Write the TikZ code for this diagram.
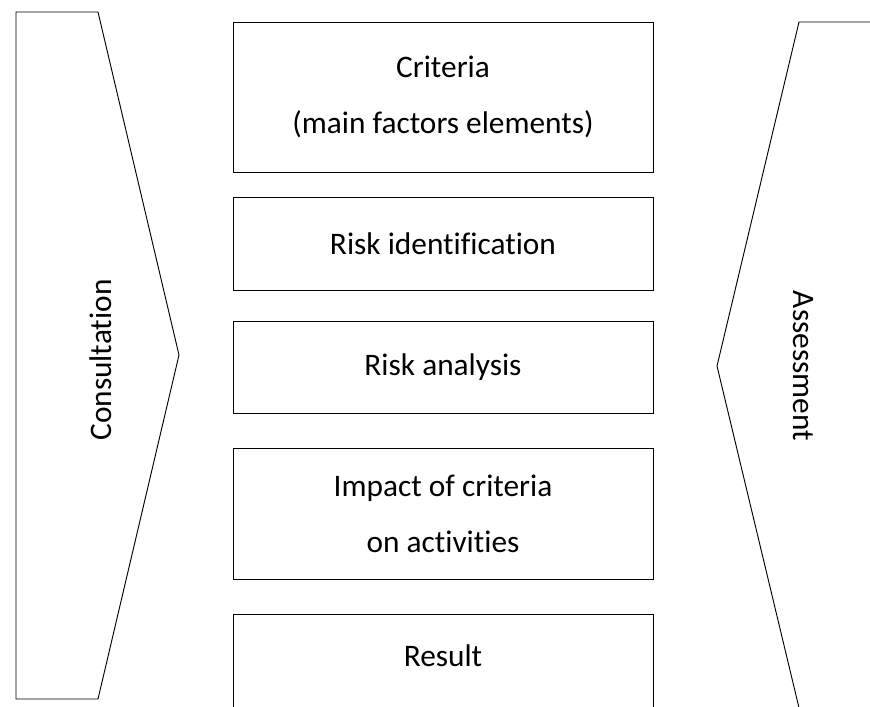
\documentclass[tikz,border=0pt]{standalone}
\usepackage{fontspec}
\setmainfont[Ligatures=NoCommon]{Carlito}
\usetikzlibrary{positioning}
\tikzset{stage/.style={draw,rectangle,minimum width=315pt,inner sep=0pt},
	sidetext/.style={inner sep=0pt},
	every picture/.style={line width=0.7pt}}

\begin{document}
\begin{tikzpicture}[x=0.75pt,y=-0.75pt,font=\fontsize{23.5}{42}\selectfont]
		\useasboundingbox (0,0) rectangle (870,706);
		\clip (0,0) rectangle (870,706);
		% the two side arrows
		\draw (16,12) -- (98,12) -- (179,355) -- (98,699) -- (16,699) -- cycle;
		\draw (875,22) -- (799,22) -- (717,366) -- (800,712);
		\node[sidetext,rotate=90] (consult) at (101,360) {Consultation};
		\node[sidetext,rotate=-90] (assess) at (803,366) {Assessment};
		\begin{scope}[every node/.style={stage,align=center}]
			\node[minimum height=112.5pt] (crit) at (443,97) {Criteria\\(main factors elements)};
			\node[minimum height=69.75pt] (ident) at (443,243.5) {Risk identification};
			\node[minimum height=69pt] (anal) at (443,367) {Risk analysis};
			\node[minimum height=98.25pt] (impact) at (443,513.5) {Impact of criteria\\on activities};
			\node[minimum height=78pt] (result) at (443,666) {};
		\end{scope}
		\node[sidetext] (resulttext) at (443,656) {Result};
	\end{tikzpicture}
\end{document}
